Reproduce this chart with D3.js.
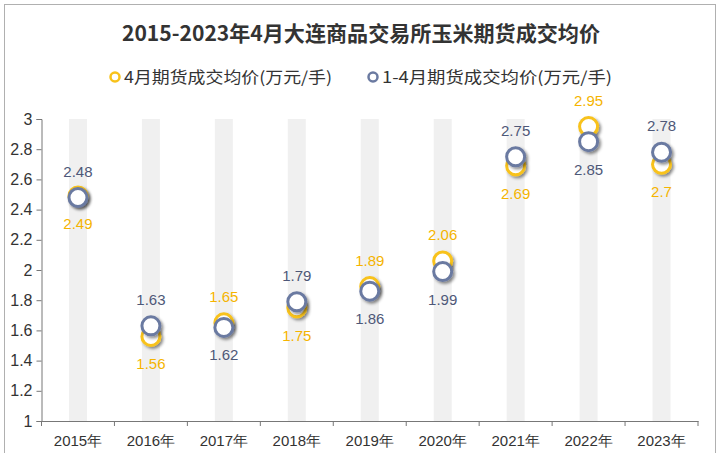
<!DOCTYPE html>
<html><head><meta charset="utf-8">
<script src="https://cdn.jsdelivr.net/npm/d3@7"></script>
<style>body{margin:0;background:#fff}svg{display:block}</style>
</head><body>
<script>
const categories = ["2015年","2016年","2017年","2018年","2019年","2020年","2021年","2022年","2023年"];
const aprilValues = [2.49,1.56,1.65,1.75,1.89,2.06,2.69,2.95,2.7];
const janAprValues = [2.48,1.63,1.62,1.79,1.86,1.99,2.75,2.85,2.78];
const aprilLabelAbove = [false,false,true,false,true,true,false,true,false];
const yTicks = [1,1.2,1.4,1.6,1.8,2,2.2,2.4,2.6,2.8,3];
const seriesNames = ["4月期货成交均价(万元/手)","1-4月期货成交均价(万元/手)"];
const titleText = "2015-2023年4月大连商品交易所玉米期货成交均价";

(function(){
const W=720,H=453;
const yellow="#f8c21a", blue="#6b7aa1", yellowText="#f5b400", blueText="#4e5878";
const svg=d3.select("body").append("svg").attr("width",W).attr("height",H);
const defs=svg.append("defs");
const f=defs.append("filter").attr("id","sh").attr("x","-50%").attr("y","-50%").attr("width","200%").attr("height","200%");
f.append("feDropShadow").attr("dx",2).attr("dy",2).attr("stdDeviation",1.8).attr("flood-color","#000").attr("flood-opacity",0.45);

svg.append("rect").attr("x",4.5).attr("y",4.5).attr("width",711).attr("height",460).attr("fill","#fff").attr("stroke","#b0b0b0");

svg.append("text").attr("x",361).attr("y",41).attr("text-anchor","middle")
  .attr("font-family","'Noto Sans CJK SC',sans-serif").attr("font-weight","bold").attr("font-size",21)
  .attr("fill","#333").attr("textLength",478).attr("lengthAdjust","spacingAndGlyphs").text(titleText);

const leg=[{x:115,c:yellow,t:seriesNames[0],len:208},{x:373,c:blue,t:seriesNames[1],len:230}];
leg.forEach(l=>{
  svg.append("circle").attr("cx",l.x).attr("cy",77).attr("r",4.5).attr("fill","#fff").attr("stroke",l.c).attr("stroke-width",2.5);
  svg.append("text").attr("x",l.x+9).attr("y",83).attr("font-family","'Noto Sans CJK SC',sans-serif")
    .attr("font-size",16).attr("fill","#333").attr("textLength",l.len).attr("lengthAdjust","spacingAndGlyphs").text(l.t);
});

const pl=41.5,pr=698,pt=119,pb=421;
const x=d3.scaleBand().domain(categories).range([pl,pr]);
const y=d3.scaleLinear().domain([1,3]).range([pb,pt]);

const g=svg.append("g");
g.selectAll("rect.band").data(categories).join("rect")
  .attr("x",d=>x(d)+x.bandwidth()/2-9).attr("y",pt).attr("width",18).attr("height",pb-pt).attr("fill","#f0f0f0");

const yAxis=g.append("g").attr("transform",`translate(${pl},0)`)
  .call(d3.axisLeft(y).tickValues(yTicks).tickSize(5).tickPadding(4).tickFormat(d3.format("~g")));
yAxis.select(".domain").attr("stroke","#777");
yAxis.selectAll(".tick line").attr("stroke","#777");
yAxis.selectAll("text").attr("font-family","'Liberation Sans',Arial,sans-serif").attr("font-size",16).attr("fill","#333");

const xAxis=g.append("g").attr("transform",`translate(0,${pb})`)
  .call(d3.axisBottom(x).tickSize(0).tickPadding(14));
xAxis.select(".domain").attr("stroke","#777");
xAxis.selectAll("text").attr("font-family","'Liberation Sans',Arial,sans-serif").attr("font-size",15).attr("fill","#333");
const bounds=categories.map(c=>x(c)).concat([pr]);
g.selectAll("line.bt").data(bounds).join("line").attr("x1",d=>d).attr("x2",d=>d)
  .attr("y1",pb).attr("y2",pb+5).attr("stroke","#777");

function drawSeries(vals,color){
  g.append("g").selectAll("circle").data(vals).join("circle")
    .attr("cx",(d,i)=>x(categories[i])+x.bandwidth()/2).attr("cy",d=>y(d)).attr("r",9)
    .attr("fill","#fff").attr("stroke",color).attr("stroke-width",3).attr("filter","url(#sh)");
}
drawSeries(aprilValues,yellow);
drawSeries(janAprValues,blue);

function labels(vals,color,aboveArr){
  g.append("g").selectAll("text").data(vals).join("text")
    .attr("x",(d,i)=>x(categories[i])+x.bandwidth()/2)
    .attr("y",(d,i)=>y(d)+(aboveArr[i]?-21:33))
    .attr("text-anchor","middle").attr("font-family","'Liberation Sans',Arial,sans-serif").attr("font-size",15)
    .attr("fill",color).text(d=>d3.format("~g")(d));
}
labels(aprilValues,yellowText,aprilLabelAbove);
labels(janAprValues,blueText,aprilLabelAbove.map(a=>!a));
})();
</script>
</body></html>
